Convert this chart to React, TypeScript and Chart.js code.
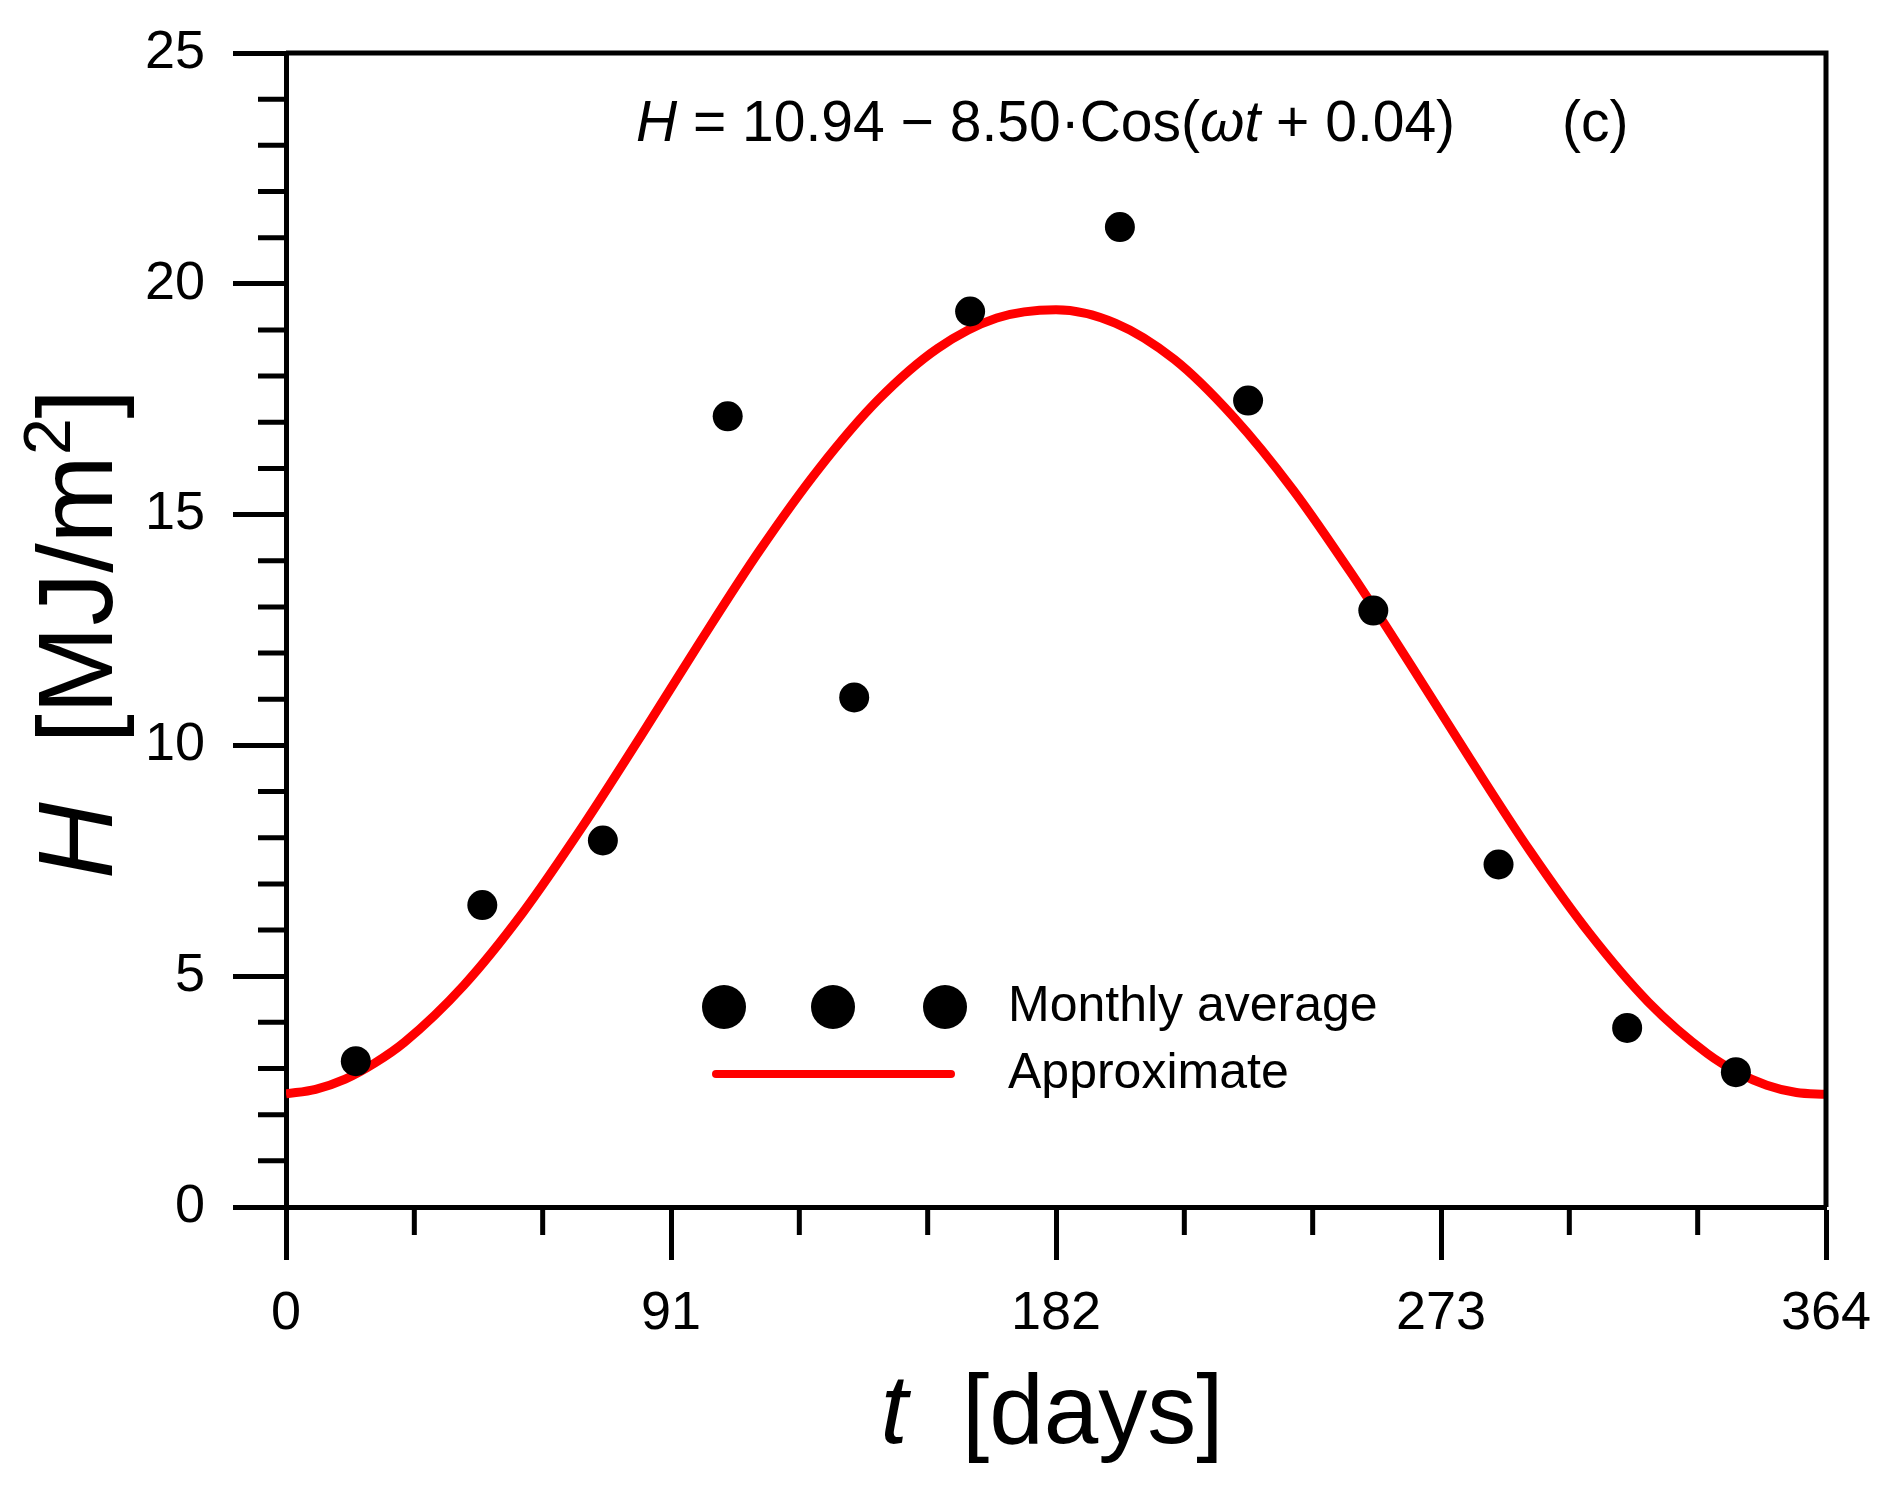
import { useEffect, useRef } from 'react'
import { Chart, registerables } from 'chart.js'

Chart.register(...registerables)

const FONT = '"Liberation Sans", Arial, sans-serif'

// monthly averages
const MONTH_DAY = [16.5, 46.4, 74.9, 104.4, 134.3, 161.7, 197.1, 227.4, 257.0, 286.6, 317.0, 342.7]
const MONTH_H   = [3.16, 6.54, 7.94, 17.13, 11.04, 19.40, 21.23, 17.47, 12.92, 7.42, 3.88, 2.92]

// approximation curve
const FIT_DAY = [0, 7, 14, 21, 28, 42, 56, 70, 84, 98, 112, 126, 140, 154, 168, 182,
  196, 210, 224, 238, 252, 266, 280, 294, 308, 322, 336, 343, 350, 357, 364]
const FIT_H = [2.45, 2.55, 2.77, 3.12, 3.57, 4.80, 6.38, 8.23, 10.22, 12.26, 14.23, 16.00, 17.49, 18.60, 19.26, 19.44,
  19.15, 18.36, 17.11, 15.54, 13.70, 11.72, 9.69, 7.72, 5.94, 4.44, 3.32, 2.92, 2.64, 2.48, 2.44]

const X_TICKS = [0, 91, 182, 273, 364]
const X_MINOR = [30.33, 60.67, 121.33, 151.67, 212.33, 242.67, 303.33, 333.67]
const Y_TICKS = [0, 5, 10, 15, 20, 25]
const Y_MINOR = [1, 2, 3, 4, 6, 7, 8, 9, 11, 12, 13, 14, 16, 17, 18, 19, 21, 22, 23, 24]

type Run = { text: string; italic?: boolean; size: number; dy?: number }

function font(r: Run) {
  return `${r.italic ? 'italic ' : ''}${r.size}px ${FONT}`
}
function runsWidth(ctx: CanvasRenderingContext2D, runs: Run[]) {
  return runs.reduce((w, r) => { ctx.font = font(r); return w + ctx.measureText(r.text).width }, 0)
}
function drawRuns(ctx: CanvasRenderingContext2D, runs: Run[], x: number, y: number) {
  let cx = x
  for (const r of runs) {
    ctx.font = font(r)
    ctx.fillText(r.text, cx, y + (r.dy ?? 0))
    cx += ctx.measureText(r.text).width
  }
}

const noPad = (s: any) => { s.paddingTop = 0; s.paddingBottom = 0; s.paddingLeft = 0; s.paddingRight = 0 }

const decor = {
  id: 'decor',
  afterDraw(chart: any) {
    const { ctx, chartArea: a, scales } = chart
    const xs = scales.x, ys = scales.y
    ctx.save()

    // frame + minor ticks
    ctx.strokeStyle = '#000'
    ctx.lineWidth = 5
    ctx.beginPath()
    ctx.moveTo(a.left, a.top); ctx.lineTo(a.right, a.top); ctx.lineTo(a.right, a.bottom)
    Y_MINOR.forEach(v => { const p = ys.getPixelForValue(v); ctx.moveTo(a.left - 28, p); ctx.lineTo(a.left, p) })
    X_MINOR.forEach(v => { const p = xs.getPixelForValue(v); ctx.moveTo(p, a.bottom); ctx.lineTo(p, a.bottom + 28) })
    ctx.stroke()

    ctx.fillStyle = '#000'
    ctx.textBaseline = 'alphabetic'
    ctx.textAlign = 'left'

    // equation
    const eq: Run[] = [
      { text: 'H', italic: true, size: 57 },
      { text: ' = 10.94 \u2212 8.50\u00b7Cos(', size: 57 },
      { text: '\u03c9', italic: true, size: 57 },
      { text: 't', italic: true, size: 57 },
      { text: ' + 0.04)', size: 57 },
    ]
    drawRuns(ctx, eq, 636, 141)
    drawRuns(ctx, [{ text: '(c)', size: 57 }], 1562, 141)

    // x title
    const xt: Run[] = [
      { text: 't', italic: true, size: 98 },
      { text: '  [days]', size: 98 },
    ]
    const cx = (a.left + a.right) / 2
    drawRuns(ctx, xt, cx - runsWidth(ctx, xt) / 2 - 4, 1443)

    // y title
    const yt: Run[] = [
      { text: 'H', italic: true, size: 106 },
      { text: '  [MJ/m', size: 106 },
      { text: '2', size: 66, dy: -42 },
      { text: ']', size: 106 },
    ]
    ctx.save()
    ctx.translate(112, (a.top + a.bottom) / 2 + 4)
    ctx.rotate(-Math.PI / 2)
    drawRuns(ctx, yt, -runsWidth(ctx, yt) / 2, 0)
    ctx.restore()

    // legend
    ;[724, 833, 945].forEach(px => {
      ctx.beginPath(); ctx.arc(px, 1007, 22, 0, Math.PI * 2); ctx.fill()
    })
    ctx.strokeStyle = '#ff0000'
    ctx.lineWidth = 8
    ctx.lineCap = 'round'
    ctx.beginPath(); ctx.moveTo(716, 1074); ctx.lineTo(951, 1074); ctx.stroke()
    ctx.textBaseline = 'middle'
    ctx.font = `50px ${FONT}`
    ctx.fillText('Monthly average', 1008, 1007)
    ctx.fillText('Approximate', 1008, 1074)

    ctx.restore()
  },
}

export default function App() {
  const ref = useRef<HTMLCanvasElement>(null)

  useEffect(() => {
    if (!ref.current) return
    const chart = new Chart(ref.current, {
      type: 'scatter',
      data: {
        datasets: [
          {
            label: 'Monthly average',
            data: MONTH_DAY.map((x, i) => ({ x, y: MONTH_H[i] })),
            pointRadius: 15,
            pointBackgroundColor: '#000',
            pointBorderWidth: 0,
            order: 0,
          },
          {
            label: 'Approximate',
            data: FIT_DAY.map((x, i) => ({ x, y: FIT_H[i] })),
            showLine: true,
            borderColor: '#ff0000',
            borderWidth: 9,
            pointRadius: 0,
            cubicInterpolationMode: 'monotone',
            fill: false,
            order: 1,
          },
        ],
      },
      options: {
        responsive: false,
        devicePixelRatio: 1,
        animation: false,
        layout: { padding: { top: 53, right: 62, left: 0, bottom: 0 } },
        plugins: { legend: { display: false }, tooltip: { enabled: false } },
        scales: {
          x: {
            type: 'linear', min: 0, max: 364,
            afterBuildTicks: (s: any) => { s.ticks = X_TICKS.map(value => ({ value })) },
            afterFit: (s: any) => { s.height = 287; noPad(s) },
            grid: { drawOnChartArea: false, tickLength: 53, tickWidth: 5, tickColor: '#000' },
            border: { color: '#000', width: 5 },
            ticks: { color: '#000', font: { family: FONT, size: 54 }, padding: 22, maxRotation: 0, autoSkip: false },
          },
          y: {
            type: 'linear', min: 0, max: 25,
            afterBuildTicks: (s: any) => { s.ticks = Y_TICKS.map(value => ({ value })) },
            afterFit: (s: any) => { s.width = 286; noPad(s) },
            grid: { drawOnChartArea: false, tickLength: 53, tickWidth: 5, tickColor: '#000' },
            border: { color: '#000', width: 5 },
            ticks: { color: '#000', font: { family: FONT, size: 54 }, padding: 28 },
          },
        },
      },
      plugins: [decor],
    })
    return () => chart.destroy()
  }, [])

  return (
    <div style={{ position: 'absolute', left: 0, top: 0, width: 1888, height: 1494, background: '#fff' }}>
      <canvas ref={ref} width={1888} height={1494} style={{ width: 1888, height: 1494 }} />
    </div>
  )
}
